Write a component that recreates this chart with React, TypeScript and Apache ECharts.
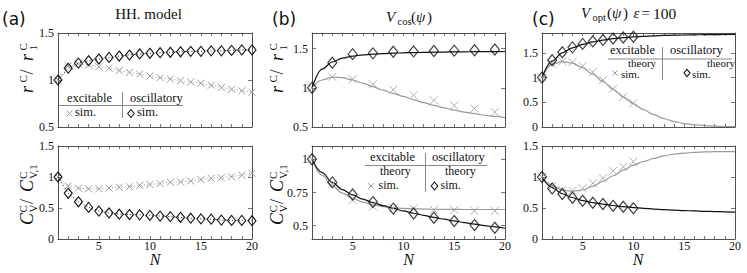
import React, { useEffect, useRef } from 'react';
import * as echarts from 'echarts';

// ---------- data ----------
const nAll = [1, 2, 3, 4, 5, 6, 7, 8, 9, 10, 11, 12, 13, 14, 15, 16, 17, 18, 19, 20];
const nOdd = [1, 3, 5, 7, 9, 11, 13, 15, 17, 19];
const nTen = [1, 2, 3, 4, 5, 6, 7, 8, 9, 10];
const xTickLabels = [5, 10, 15, 20];

// (a) HH model, simulations only
const aTopExc = [1.0, 1.15, 1.17, 1.16, 1.14, 1.125, 1.1, 1.08, 1.064, 1.043, 1.025, 1.01, 0.993, 0.979, 0.965, 0.944, 0.92, 0.9, 0.886, 0.87];
const aTopOsc = [1.0, 1.125, 1.18, 1.205, 1.223, 1.24, 1.255, 1.266, 1.277, 1.284, 1.29, 1.295, 1.3, 1.305, 1.305, 1.31, 1.31, 1.315, 1.32, 1.32];
const aBotExc = [1.0, 0.855, 0.82, 0.81, 0.81, 0.82, 0.835, 0.845, 0.865, 0.88, 0.895, 0.915, 0.92, 0.935, 0.96, 0.98, 0.99, 1.005, 1.03, 1.06];
const aBotOsc = [1.0, 0.737, 0.6, 0.51, 0.45, 0.42, 0.4, 0.395, 0.39, 0.38, 0.37, 0.36, 0.35, 0.335, 0.325, 0.32, 0.305, 0.3, 0.3, 0.295];

// (b) V_cos
const bTopExcSim = [1.0, 1.14, 1.11, 1.045, 0.976, 0.905, 0.84, 0.775, 0.735, 0.69];
const bTopOscSim = [1.0, 1.32, 1.43, 1.44, 1.46, 1.465, 1.47, 1.475, 1.48, 1.49];
const bTopExcTheory = [1.0, 1.1, 1.135, 1.13, 1.1, 1.06, 1.015, 0.97, 0.93, 0.89, 0.85, 0.81, 0.775, 0.745, 0.715, 0.69, 0.67, 0.65, 0.635, 0.62];
const bTopOscTheory = [1.0, 1.24, 1.33, 1.38, 1.405, 1.42, 1.43, 1.437, 1.443, 1.447, 1.45, 1.452, 1.455, 1.457, 1.459, 1.46, 1.461, 1.462, 1.463, 1.464];
const bBotExcSim = [1.0, 0.815, 0.693, 0.644, 0.631, 0.629, 0.619, 0.619, 0.612, 0.612];
const bBotOscSim = [1.0, 0.826, 0.735, 0.678, 0.629, 0.592, 0.56, 0.535, 0.505, 0.485];
const bBotExcTheory = [1.0, 0.88, 0.8, 0.745, 0.705, 0.677, 0.657, 0.643, 0.635, 0.63, 0.627, 0.625, 0.624, 0.623, 0.623, 0.622, 0.622, 0.622, 0.622, 0.622];
const bBotOscTheory = [1.0, 0.9, 0.826, 0.772, 0.732, 0.7, 0.674, 0.651, 0.63, 0.611, 0.594, 0.578, 0.563, 0.549, 0.536, 0.524, 0.512, 0.501, 0.491, 0.481];

// (c) V_opt, eps = 100
const cTopExcSim = [1.0, 1.28, 1.33, 1.31, 1.23, 1.11, 0.95, 0.77, 0.61, 0.48];
const cTopOscSim = [1.0, 1.35, 1.51, 1.61, 1.68, 1.73, 1.76, 1.79, 1.81, 1.825];
const cTopExcTheory = [1.0, 1.27, 1.32, 1.29, 1.2, 1.07, 0.92, 0.76, 0.61, 0.47, 0.35, 0.25, 0.17, 0.11, 0.07, 0.045, 0.028, 0.017, 0.01, 0.006];
const cTopOscTheory = [1.0, 1.33, 1.5, 1.6, 1.67, 1.72, 1.755, 1.785, 1.805, 1.82, 1.833, 1.843, 1.85, 1.856, 1.86, 1.863, 1.866, 1.868, 1.87, 1.872];
const cBotExcSim = [1.0, 0.855, 0.79, 0.777, 0.818, 0.9, 0.98, 1.1, 1.165, 1.25];
const cBotOscSim = [1.0, 0.815, 0.725, 0.665, 0.617, 0.585, 0.565, 0.535, 0.52, 0.495];
const cBotExcTheory = [1.0, 0.86, 0.79, 0.77, 0.79, 0.85, 0.93, 1.02, 1.11, 1.19, 1.25, 1.3, 1.34, 1.37, 1.385, 1.397, 1.404, 1.408, 1.41, 1.41];
const cBotOscTheory = [1.0, 0.83, 0.73, 0.665, 0.62, 0.587, 0.562, 0.54, 0.522, 0.507, 0.494, 0.483, 0.474, 0.466, 0.459, 0.453, 0.447, 0.442, 0.438, 0.434];

// y ranges / tick labels
const yRanges = [[0.5, 1.5], [0, 1.5], [0.5, 1.7], [0.4, 1.1], [0, 1.9], [0, 1.5]];
const yTickSets = [[0.5, 1, 1.5], [0, 0.5, 1, 1.5], [0.5, 1, 1.5], [0.5, 0.75, 1], [0, 0.5, 1, 1.5], [0, 0.5, 1, 1.5]];

// ---------- style ----------
const GRAY = '#9a9a9a';
const BLACK = '#111111';
const FRAME = '#505050';
const INK = '#111111';
const RULE = '#8a8a8a';
const SERIF = 'Liberation Serif, DejaVu Serif, serif';
const SANS = 'DejaVu Sans, sans-serif';
const CROSS = 'path://M0,0L10,10M10,0L0,10';

const grids = [
  { left: 58, top: 33, width: 194, height: 94 },
  { left: 58, top: 146, width: 194, height: 93 },
  { left: 312, top: 33, width: 193, height: 94 },
  { left: 312, top: 146, width: 193, height: 93 },
  { left: 542, top: 33, width: 193, height: 94 },
  { left: 542, top: 146, width: 193, height: 93 },
];

const pair = (xs: number[], ys: number[]) => xs.map((x, i) => [x, ys[i]]);

function txt(x: number, baseline: number, text: string, fs: number, opts: any = {}) {
  const fam = opts.family || SERIF;
  const align = opts.align || 'left';
  return {
    type: 'text', x, y: baseline - 0.34 * fs, silent: true,
    style: {
      text, fontSize: fs, fontFamily: fam, fontStyle: opts.italic ? 'italic' : 'normal',
      fill: INK, align, verticalAlign: 'middle',
    },
  };
}

function vLabel(ox: number, oy: number, pieces: any[]) {
  return {
    type: 'group', x: ox, y: oy, rotation: Math.PI / 2, silent: true,
    children: pieces.map((p) => txt(p[0], p[1], p[2], p[3], { italic: p[4] })),
  };
}

function crossMark(cx: number, cy: number, s: number) {
  return [
    { type: 'line', silent: true, shape: { x1: cx - s, y1: cy - s, x2: cx + s, y2: cy + s }, style: { stroke: GRAY, lineWidth: 1 } },
    { type: 'line', silent: true, shape: { x1: cx - s, y1: cy + s, x2: cx + s, y2: cy - s }, style: { stroke: GRAY, lineWidth: 1 } },
  ];
}
function diamondMark(cx: number, cy: number, w: number, h: number) {
  return {
    type: 'polygon', silent: true,
    shape: { points: [[cx, cy - h], [cx + w, cy], [cx, cy + h], [cx - w, cy]] },
    style: { fill: 'none', stroke: BLACK, lineWidth: 1.1 },
  };
}
function hline(x1: number, x2: number, y: number) {
  return { type: 'line', silent: true, shape: { x1, y1: y, x2, y2: y }, style: { stroke: RULE, lineWidth: 1 } };
}
function vline(x: number, y1: number, y2: number) {
  return { type: 'line', silent: true, shape: { x1: x, y1, x2: x, y2 }, style: { stroke: RULE, lineWidth: 1 } };
}

function buildOption() {
  const xAxis: any[] = [];
  const yAxis: any[] = [];
  grids.forEach((g, i) => {
    const bottomPanel = i % 2 === 1;
    const common = {
      type: 'value', gridIndex: i, min: 1, max: 20,
      splitLine: { show: false },
      axisLine: { show: true, onZero: false, lineStyle: { color: FRAME, width: 1 } },
      axisTick: { show: true, inside: true, length: 3, customValues: nAll, lineStyle: { color: FRAME, width: 0.8 } },
    };
    xAxis.push({
      ...common, position: 'bottom',
      axisLabel: { show: bottomPanel, customValues: xTickLabels, margin: 1, fontFamily: SERIF, fontSize: 12, color: INK },
    });
    xAxis.push({ ...common, position: 'top', axisLabel: { show: false } });
    const ycommon = {
      type: 'value', gridIndex: i, min: yRanges[i][0], max: yRanges[i][1],
      splitLine: { show: false },
      axisLine: { show: true, onZero: false, lineStyle: { color: FRAME, width: 1 } },
      axisTick: { show: true, inside: true, length: 4, customValues: yTickSets[i], lineStyle: { color: FRAME, width: 0.8 } },
    };
    yAxis.push({
      ...ycommon, position: 'left',
      axisLabel: { show: true, customValues: yTickSets[i], margin: 4, fontFamily: SERIF, fontSize: 12, color: INK },
    });
    yAxis.push({ ...ycommon, position: 'right', axisLabel: { show: false } });
  });

  const series: any[] = [];
  const simLine = (i: number, xs: number[], ys: number[], exc: boolean) => ({
    type: 'line', xAxisIndex: 2 * i, yAxisIndex: 2 * i, data: pair(xs, ys), silent: true,
    symbol: exc ? CROSS : 'diamond', symbolSize: exc ? 7 : [8, 10], showSymbol: true,
    lineStyle: { color: exc ? GRAY : BLACK, width: 1, type: [1, 2.2] },
    itemStyle: { color: 'rgba(0,0,0,0)', borderColor: exc ? GRAY : BLACK, borderWidth: exc ? 1 : 1.1 },
    z: exc ? 3 : 4,
  });
  const theory = (i: number, ys: number[], exc: boolean) => ({
    type: 'line', xAxisIndex: 2 * i, yAxisIndex: 2 * i, data: pair(nAll, ys), silent: true,
    showSymbol: false, symbol: 'none', smooth: 0.35, smoothMonotone: 'x',
    lineStyle: { color: exc ? GRAY : BLACK, width: 1.2 }, z: 2,
  });
  const simPts = (i: number, xs: number[], ys: number[], exc: boolean) => ({
    type: 'scatter', xAxisIndex: 2 * i, yAxisIndex: 2 * i, data: pair(xs, ys), silent: true,
    symbol: exc ? CROSS : 'diamond', symbolSize: exc ? 8 : [9, 11],
    itemStyle: { color: 'rgba(0,0,0,0)', borderColor: exc ? GRAY : BLACK, borderWidth: exc ? 1 : 1.2 },
    z: exc ? 3 : 4,
  });

  series.push(simLine(0, nAll, aTopExc, true), simLine(0, nAll, aTopOsc, false));
  series.push(simLine(1, nAll, aBotExc, true), simLine(1, nAll, aBotOsc, false));
  series.push(theory(2, bTopExcTheory, true), theory(2, bTopOscTheory, false), simPts(2, nOdd, bTopExcSim, true), simPts(2, nOdd, bTopOscSim, false));
  series.push(theory(3, bBotExcTheory, true), theory(3, bBotOscTheory, false), simPts(3, nOdd, bBotExcSim, true), simPts(3, nOdd, bBotOscSim, false));
  series.push(theory(4, cTopExcTheory, true), theory(4, cTopOscTheory, false), simPts(4, nTen, cTopExcSim, true), simPts(4, nTen, cTopOscSim, false));
  series.push(theory(5, cBotExcTheory, true), theory(5, cBotOscTheory, false), simPts(5, nTen, cBotExcSim, true), simPts(5, nTen, cBotOscSim, false));

  const rLabel = (ox: number, oy: number) => vLabel(ox, oy, [
    [0, 0, 'r', 18, true], [10.5, -6, 'C', 11, false], [18.5, 0, '/', 18, false],
    [32, 0, 'r', 18, true], [42.5, -6, 'C', 11, false], [42.5, 4, '1', 11, false],
  ]);
  const cLabel = (ox: number, oy: number) => vLabel(ox, oy, [
    [0, 0, 'C', 18, true], [12.5, -6, 'C', 11, false], [12.5, 4, 'V', 11, false], [21, 0, '/', 18, false],
    [33, 0, 'C', 18, true], [46, -6, 'C', 11, false], [46, 4, 'V,1', 11, false],
  ]);

  const g: any[] = [
    // panel tags
    txt(2, 24.8, '(a)', 17, { family: SANS }),
    txt(272, 24.8, '(b)', 17, { family: SANS }),
    txt(532, 24.8, '(c)', 17, { family: SANS }),
    // titles
    txt(148.5, 19, 'HH. model', 15, { align: 'center' }),
    txt(386, 22, 'V', 15, { italic: true }), txt(397.5, 25.5, 'cos', 10.5),
    txt(411, 22, '(', 15), txt(416, 22, 'ψ', 15, { italic: true }), txt(427, 22, ')', 15),
    txt(581, 18.3, 'V', 15, { italic: true }), txt(592.5, 21.5, 'opt', 10.5),
    txt(607, 18.3, '(', 15), txt(612, 18.3, 'ψ', 15, { italic: true }), txt(623, 18.3, ')', 15),
    txt(633.5, 18.3, 'ε', 15, { italic: true }), txt(641.5, 18.3, '=', 15), txt(653, 18.3, '100', 15.5),
    // y labels
    rLabel(33, 93), cLabel(33, 225), rLabel(283, 93), cLabel(283, 225),
    // x labels
    txt(155, 265, 'N', 16, { italic: true, align: 'center' }),
    txt(408.5, 265, 'N', 16, { italic: true, align: 'center' }),
    txt(638, 265, 'N', 16, { italic: true, align: 'center' }),
    // legend (a)
    txt(67, 102, 'excitable', 12.5), txt(130, 102, 'oscillatory', 12.5),
    hline(58, 183, 105.5), vline(122.5, 92, 118),
    ...crossMark(69.5, 113.5, 2.8), txt(75, 116.5, 'sim.', 12.5),
    diamondMark(131, 113.5, 3.3, 4), txt(137, 116.5, 'sim.', 12.5),
    // legend (b)
    txt(370, 161, 'excitable', 12.5), txt(432, 161, 'oscillatory', 12.5),
    hline(365, 487, 165.5), vline(425.5, 153, 192),
    txt(380, 175.5, 'theory', 12), ...crossMark(371, 186, 2.8), txt(378.5, 189.5, 'sim.', 12),
    txt(445, 175.5, 'theory', 12), diamondMark(434.5, 186, 3.3, 4), txt(440.5, 189.5, 'sim.', 12),
    // legend (c)
    txt(610, 54.5, 'excitable', 12.5), txt(670, 54.5, 'oscillatory', 12.5),
    hline(608, 732, 59), vline(662.5, 47, 80),
    txt(628, 66.5, 'theory', 11), ...crossMark(615, 73, 2.5), txt(621, 77.5, 'sim.', 11),
    txt(707, 66.5, 'theory', 11), diamondMark(687, 73, 3, 3.6), txt(692, 77.5, 'sim.', 11),
  ];

  return {
    animation: false,
    backgroundColor: '#ffffff',
    grid: grids.map((gr) => ({ ...gr, containLabel: false })),
    xAxis, yAxis, series,
    graphic: { elements: g },
  };
}

export default function App() {
  const ref = useRef<HTMLDivElement>(null);
  useEffect(() => {
    if (!ref.current) return;
    const chart = echarts.init(ref.current, undefined, { renderer: 'svg' });
    chart.setOption(buildOption() as any);
    return () => chart.dispose();
  }, []);
  return <div ref={ref} style={{ position: 'absolute', left: 0, top: 0, width: 747, height: 273 }} />;
}
